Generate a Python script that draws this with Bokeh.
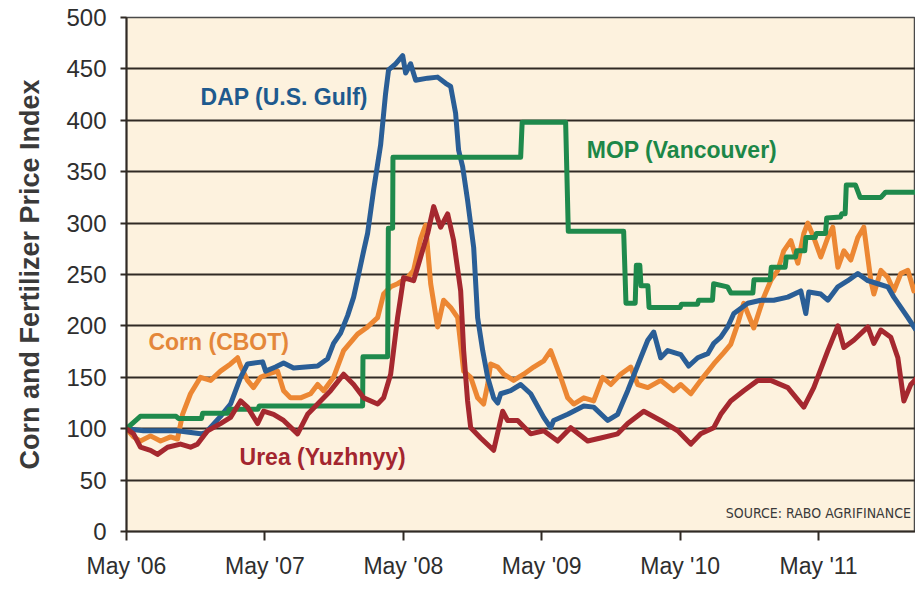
from bokeh.plotting import figure
from bokeh.models import FixedTicker, Label, Range1d
from bokeh.embed import file_html
from bokeh.resources import INLINE

# x values: months since May 2006
tick_months = [0, 12, 24, 36, 48, 60]
tick_labels = ["May '06", "May '07", "May '08", "May '09", "May '10", "May '11"]
y_ticks = [0, 50, 100, 150, 200, 250, 300, 350, 400, 450, 500]

dap_month = [0.0, 1.47, 4.42, 6.42, 6.85, 8.15, 9.02, 9.89, 10.49, 11.8, 12.06, 12.92, 13.62, 14.48, 16.57,
             17.43, 17.95, 18.56, 19.17, 19.69, 20.12, 20.56, 20.9, 21.42, 22.03, 22.46, 22.72, 23.33, 23.94,
             24.2, 24.63, 25.07, 26.11, 26.97, 27.67, 28.1, 28.53, 28.79, 29.14, 29.57, 30.1, 30.44, 30.88,
             31.31, 31.83, 32.18, 32.44, 33.3, 34.17, 35.04, 36.17, 36.77, 37.03, 38.25, 39.64, 40.5, 41.72,
             42.58, 43.45, 44.58, 45.19, 45.71, 46.31, 46.92, 48.05, 48.74, 49.52, 50.39, 50.91, 51.52, 52.12,
             52.65, 53.86, 54.99, 56.11, 57.33, 58.46, 58.89, 59.15, 60.19, 60.8, 61.67, 62.53, 63.4, 64.27,
             65.13, 66.0, 66.52, 67.13, 67.74, 68.43]
dap_value = [100, 98, 98, 95, 96, 112, 124, 150, 163, 165, 156, 160, 164, 159, 161,
             168, 183, 193, 210, 228, 250, 273, 290, 332, 376, 426, 449, 455, 463,
             446, 455, 439, 441, 442, 436, 433, 407, 371, 355, 322, 276, 208, 176,
             150, 130, 125, 134, 137, 143, 134, 111, 101, 108, 114, 122, 121, 108,
             114, 137, 169, 186, 194, 169, 176, 172, 161, 169, 173, 183, 189, 199,
             212, 222, 225, 225, 228, 234, 212, 233, 231, 225, 238, 244, 251, 244,
             241, 238, 228, 218, 208, 196]

mop_month = [0, 1.2, 4.3, 4.5, 6.5, 6.6, 8.8, 8.9, 11.4, 11.5, 20.47, 20.5, 22.64, 22.7, 23.07, 23.1,
             34.17, 34.3, 38.07, 38.3, 43.1, 43.3, 44.1, 44.2, 44.5, 44.6, 45.2, 45.3, 48.0, 48.1, 49.5,
             49.6, 50.8, 50.9, 52.1, 52.4, 54.3, 54.4, 55.8, 55.9, 57.1, 57.2, 58.0, 58.1, 58.8, 58.9,
             59.7, 59.8, 60.6, 60.7, 61.9, 62.0, 62.3, 62.4, 63.2, 63.6, 65.4, 65.8, 68.6]
mop_value = [100, 112, 112, 110, 110, 115, 115, 119, 119, 122, 122, 170, 170, 295, 295, 364,
             364, 398, 398, 292, 292, 222, 222, 259, 259, 239, 239, 218, 218, 221, 221,
             225, 225, 241, 238, 232, 232, 245, 245, 257, 257, 267, 267, 273, 273, 286,
             286, 290, 290, 305, 306, 309, 309, 337, 337, 325, 325, 330, 330]

corn_month = [0, 0.61, 1.21, 2.08, 2.95, 3.82, 4.42, 4.86, 5.55, 6.42, 7.29, 8.15, 9.02, 9.63, 9.89,
              10.49, 11.01, 11.62, 12.23, 13.1, 13.62, 14.22, 15.09, 15.96, 16.57, 17.09, 17.95, 18.82,
              20.03, 20.9, 21.77, 22.29, 22.9, 23.5, 24.37, 24.89, 25.5, 25.93, 26.37, 26.97, 27.49, 28.1,
              28.71, 29.23, 29.84, 30.44, 30.96, 31.31, 31.57, 32.18, 32.7, 33.56, 34.43, 35.3, 36.17,
              36.77, 37.64, 38.25, 38.77, 39.64, 40.5, 41.28, 41.98, 42.84, 43.71, 44.32, 45.19, 46.31,
              47.44, 48.05, 48.92, 49.78, 50.91, 51.78, 52.38, 52.99, 53.51, 54.12, 54.38, 55.25, 55.85,
              56.46, 56.98, 57.59, 58.2, 58.72, 59.06, 59.58, 60.19, 60.8, 61.23, 61.67, 62.19, 62.79,
              63.4, 63.92, 64.53, 64.79, 65.4, 66.0, 66.52, 67.13, 67.74, 68.26, 68.6]
corn_value = [100, 92, 88, 93, 88, 92, 90, 114, 134, 150, 147, 156, 163, 169, 161,
              147, 140, 150, 153, 156, 137, 130, 130, 134, 143, 137, 150, 176,
              192, 199, 208, 231, 238, 241, 247, 254, 285, 298, 241, 199, 225, 218,
              208, 156, 150, 130, 124, 143, 163, 160, 153, 147, 153, 160, 166,
              176, 150, 130, 124, 130, 127, 150, 143, 153, 160, 143, 140, 147,
              137, 143, 134, 147, 163, 174, 182, 202, 222, 205, 198, 228, 244,
              254, 273, 283, 261, 290, 300, 286, 267, 286, 296, 257, 273, 264,
              286, 296, 244, 231, 254, 247, 234, 251, 254, 234, 241]

urea_month = [0, 0.61, 1.21, 2.08, 2.69, 3.56, 4.68, 5.55, 6.16, 7.03, 8.15, 9.02, 9.89, 10.49, 11.36,
              11.88, 12.75, 13.62, 14.83, 15.7, 16.57, 17.69, 18.82, 19.69, 20.56, 21.77, 22.29, 22.9,
              23.5, 23.77, 24.02, 24.89, 25.5, 26.11, 26.63, 27.23, 27.84, 28.36, 28.97, 29.23, 29.57,
              29.84, 30.7, 31.83, 32.61, 33.04, 33.91, 35.04, 36.17, 37.38, 38.51, 39.98, 41.11, 42.58,
              43.45, 44.84, 46.31, 47.79, 48.92, 49.78, 50.91, 51.52, 52.38, 53.51, 54.73, 55.85, 57.33,
              58.72, 59.58, 60.8, 61.67, 62.19, 63.05, 64.27, 64.79, 65.4, 66.26, 66.87, 67.39, 67.99, 68.6]
urea_value = [100, 95, 82, 79, 75, 82, 85, 82, 85, 98, 105, 111, 127, 121, 105,
              117, 114, 108, 95, 114, 124, 137, 153, 143, 130, 124, 130, 153,
              208, 228, 247, 244, 267, 290, 316, 296, 309, 283, 234, 176, 127,
              101, 91, 79, 117, 108, 108, 95, 98, 88, 101, 88, 91, 95,
              105, 117, 108, 98, 85, 95, 101, 114, 127, 137, 147, 147, 140,
              121, 140, 176, 200, 179, 186, 199, 183, 196, 189, 169, 127, 143, 150]

assert len(dap_month) == len(dap_value)
assert len(mop_month) == len(mop_value)
assert len(corn_month) == len(corn_value)
assert len(urea_month) == len(urea_value)

FONT = "Liberation Sans"
GRID = "#302a24"

p = figure(width=915, height=581, output_backend="svg", toolbar_location=None,
           x_range=Range1d(0, 68.4), y_range=Range1d(0, 500),
           min_border_left=126, min_border_right=0, min_border_top=17, min_border_bottom=50)
p.background_fill_color = "#fdf2de"
p.border_fill_color = "white"
p.outline_line_color = "#4a4a4a"
p.outline_line_width = 1.5

p.xgrid.visible = False
p.ygrid.ticker = FixedTicker(ticks=y_ticks)
p.ygrid.grid_line_color = GRID
p.ygrid.grid_line_width = 2

p.yaxis.ticker = FixedTicker(ticks=y_ticks)
p.yaxis.axis_line_color = GRID
p.yaxis.axis_line_width = 2
p.yaxis.major_tick_line_color = GRID
p.yaxis.major_tick_line_width = 2
p.yaxis.major_tick_out = 6
p.yaxis.major_tick_in = 0
p.yaxis.minor_tick_line_color = None
p.yaxis.major_label_text_font = FONT
p.yaxis.major_label_text_font_size = "24px"
p.yaxis.major_label_text_color = "#2e2e2e"
p.yaxis.major_label_standoff = 14
p.yaxis.axis_label = "Corn and Fertilizer Price Index"
p.yaxis.axis_label_text_font = FONT
p.yaxis.axis_label_text_font_style = "bold"
p.yaxis.axis_label_text_font_size = "27px"
p.yaxis.axis_label_text_color = "#3a3a3a"
p.yaxis.axis_label_standoff = 18

p.xaxis.ticker = FixedTicker(ticks=tick_months)
p.xaxis.major_label_overrides = {m: lab for m, lab in zip(tick_months, tick_labels)}
p.xaxis.axis_line_color = GRID
p.xaxis.axis_line_width = 2
p.xaxis.major_tick_line_color = GRID
p.xaxis.major_tick_line_width = 2
p.xaxis.major_tick_out = 9
p.xaxis.major_tick_in = 0
p.xaxis.minor_tick_line_color = None
p.xaxis.major_label_text_font = FONT
p.xaxis.major_label_text_font_size = "23px"
p.xaxis.major_label_text_color = "#2e2e2e"
p.xaxis.major_label_standoff = 12

LW = 5
p.line(corn_month, corn_value, line_color="#ec8733", line_width=LW, line_join="round")
p.line(dap_month, dap_value, line_color="#2a5e96", line_width=LW, line_join="round")
p.line(mop_month, mop_value, line_color="#1f8a4c", line_width=LW, line_join="round")
p.line(urea_month, urea_value, line_color="#a5282f", line_width=LW, line_join="round")

def add_label(x, y, text, color, size="23px", align="left", style="bold", font=FONT):
    p.add_layout(Label(x=x, y=y, text=text, text_color=color, text_font=font,
                       text_font_size=size, text_font_style=style,
                       text_align=align, text_baseline="middle"))

add_label(6.42, 423, "DAP (U.S. Gulf)", "#1e5a8e")
add_label(39.9, 371, "MOP (Vancouver)", "#1c8748")
add_label(1.9, 184, "Corn (CBOT)", "#e4873a")
add_label(9.8, 72, "Urea (Yuzhnyy)", "#a3262f")
add_label(68.0, 18, "SOURCE: RABO AGRIFINANCE", "#3a3a3a", size="14px", align="right",
          style="normal", font="DejaVu Sans Condensed")

open("out.html", "w").write(file_html(p, INLINE))
